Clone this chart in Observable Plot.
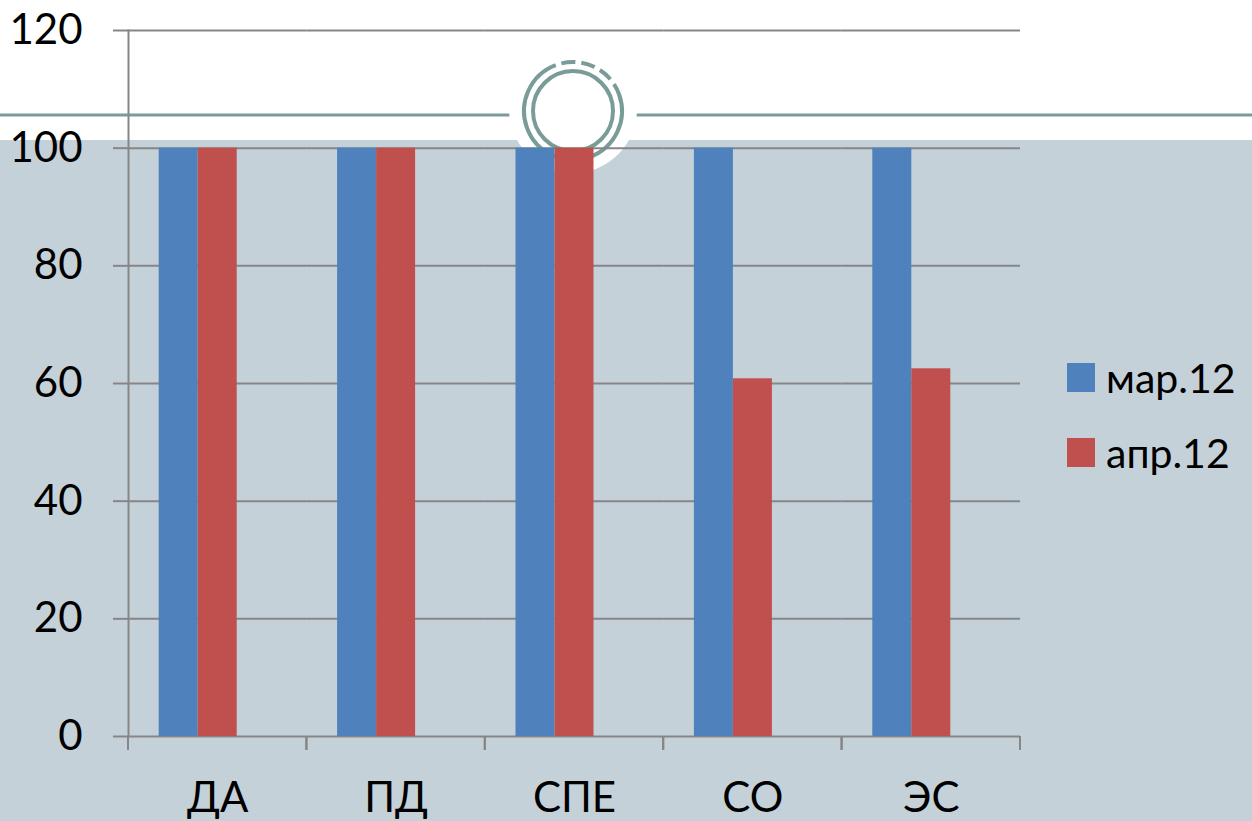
<!DOCTYPE html>
<html>
<head>
<meta charset="utf-8">
<script src="https://cdn.jsdelivr.net/npm/d3@7"></script>
<script src="https://cdn.jsdelivr.net/npm/@observablehq/plot@0.6"></script>
<style>
  html, body { margin: 0; padding: 0; }
  #stage { position: relative; width: 1252px; height: 821px; overflow: hidden;
    background: linear-gradient(to bottom, #ffffff 0px, #ffffff 140px, #C5D1D8 140px, #C5D1D8 100%); font-family: Lato, sans-serif; }
  #decor { position: absolute; left: 0; top: 0; }
  #chart { position: absolute; left: 0; top: 0; }
  #chart svg line, #chart svg path { stroke-width: 2; }
  #chart svg text { fill: #000; }
  #legend { position: absolute; left: 1067px; top: 356px; }
  .lg-row { display: flex; align-items: center; height: 42px; margin-bottom: 33px; }
  .lg-sw { width: 28px; height: 29px; margin-right: 11px; }
  .lg-tx { font-size: 41px; color: #000; line-height: 1; }
</style>
</head>
<body>
<div id="stage">
  <svg id="decor" width="1252" height="821">
    <line x1="0" x2="1252" y1="115" y2="115" stroke="#7A9C99" stroke-width="3"/>
    <circle cx="573" cy="109" r="64" fill="#ffffff"/>
    <circle cx="573" cy="111" r="49" fill="none" stroke="#7A9C99" stroke-width="4" stroke-dasharray="230 6 14 6 14 6 14 6 20" transform="rotate(-20 573 111)"/>
    <circle cx="573" cy="111" r="40" fill="none" stroke="#7A9C99" stroke-width="4"/>
  </svg>
  <div id="chart"></div>
  <div id="legend"></div>
</div>
<script>
const categories = ["ДА", "ПД", "СПЕ", "СО", "ЭС"];
const series = ["мар.12", "апр.12"];
const mar12 = [100, 100, 100, 100, 100];
const apr12 = [100, 100, 100, 60.8, 62.5];
const yTicks = [0, 20, 40, 60, 80, 100, 120];
const colors = ["#4F81BD", "#C0504D"];

const rows = [];
categories.forEach((c, i) => {
  rows.push({category: c, series: series[0], value: mar12[i]});
  rows.push({category: c, series: series[1], value: apr12[i]});
});

function edgeTicks(index, scales, values, dimensions) {
  let r;
  if (scales.scales && scales.scales.x && scales.scales.x.range) r = scales.scales.x.range;
  else if (scales.x && typeof scales.x.range === "function") r = scales.x.range();
  else r = [dimensions.marginLeft, dimensions.width - dimensions.marginRight];
  const y0 = scales.y(0);
  const g = d3.create("svg:g").attr("stroke", "#868686").attr("stroke-width", 2);
  for (const xv of r) {
    g.append("line").attr("x1", xv).attr("x2", xv).attr("y1", y0).attr("y2", y0 + 14);
  }
  return g.node();
}

const chart = Plot.plot({
  width: 1252,
  height: 821,
  marginLeft: 128,
  marginRight: 232,
  marginTop: 30,
  marginBottom: 85,
  style: {background: "transparent", fontFamily: "Lato, sans-serif", fontSize: "42px", color: "#868686", overflow: "visible"},
  facet: {data: rows, x: "category"},
  fx: {domain: categories, padding: 0, round: false, label: null, tickSize: 0, tickPadding: 46, axis: "bottom"},
  x: {domain: [...series, ""], paddingInner: 0, paddingOuter: 0.787, round: false, axis: null},
  y: {domain: [0, 120], ticks: yTicks, tickSize: 15, tickPadding: 31, label: null, line: true},
  color: {domain: series, range: colors},
  marks: [
    Plot.ruleY(yTicks, {stroke: "#868686", strokeWidth: 2}),
    Plot.barY(rows, {x: "series", y: "value", fill: "series"}),
    edgeTicks
  ]
});
document.getElementById("chart").appendChild(chart);

const legend = document.getElementById("legend");
series.forEach((s, i) => {
  const row = document.createElement("div");
  row.className = "lg-row";
  const sw = document.createElement("div");
  sw.className = "lg-sw";
  sw.style.background = colors[i];
  const tx = document.createElement("span");
  tx.className = "lg-tx";
  tx.textContent = s;
  row.appendChild(sw);
  row.appendChild(tx);
  legend.appendChild(row);
});
</script>
</body>
</html>
